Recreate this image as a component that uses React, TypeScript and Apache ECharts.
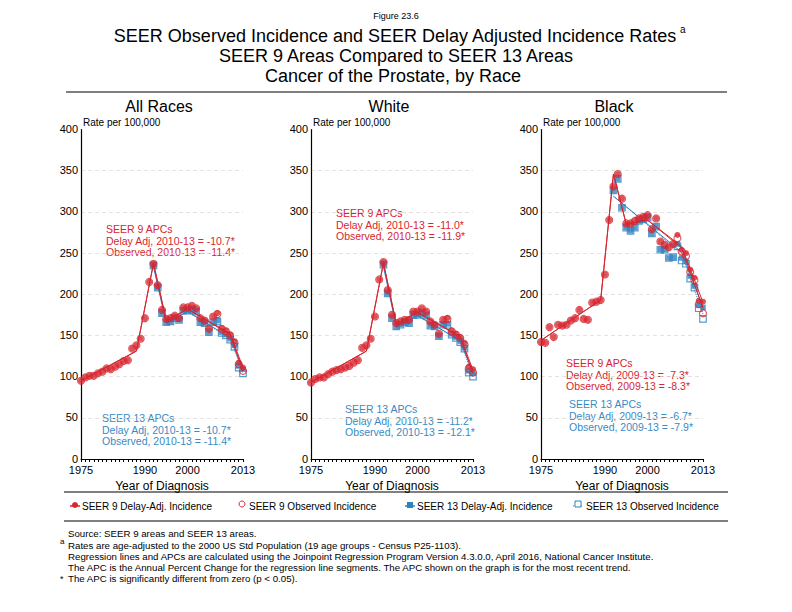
import React, { useEffect, useRef } from "react";
import * as echarts from "echarts";

const FONT = '"Liberation Sans", Arial, Helvetica, sans-serif';
const RED = "#d7262f";
const BLUE = "#2f82c0";
const BLUE_TEXT = "#3a8ac4";

const years9 = [1975, 1976, 1977, 1978, 1979, 1980, 1981, 1982, 1983, 1984, 1985, 1986, 1987, 1988, 1989, 1990, 1991, 1992, 1993, 1994, 1995, 1996, 1997, 1998, 1999, 2000, 2001, 2002, 2003, 2004, 2005, 2006, 2007, 2008, 2009, 2010, 2011, 2012, 2013];
const years13 = [1992, 1993, 1994, 1995, 1996, 1997, 1998, 1999, 2000, 2001, 2002, 2003, 2004, 2005, 2006, 2007, 2008, 2009, 2010, 2011, 2012, 2013];
const xLabelYears = [1975, 1990, 2000, 2013];
const panelTitles = ["All Races", "White", "Black"];

// All Races
const allS9Delay = [95, 99, 101, 101, 104, 106, 110, 109, 112, 115, 119, 120, 134, 138, 146, 171, 215, 237, 211, 181, 170, 171, 174, 171, 184, 184, 186, 183, 171, 168, 158, 173, 177, 159, 156, 151, 143, 117, 111];
const allS9Obs = [95, 99, 101, 101, 104, 106, 110, 109, 112, 115, 119, 120, 134, 138, 146, 171, 215, 237, 211, 181, 170, 171, 174, 171, 184, 184, 186, 183, 171, 168, 158, 173, 176, 158, 155, 150, 141, 115, 107];
const allS13Delay = [235, 208, 177, 166, 167, 171, 169, 180, 180, 181, 179, 166, 165, 154, 166, 168, 154, 151, 146, 138, 113, 109];
const allS13Obs = [235, 208, 177, 166, 167, 171, 169, 180, 180, 181, 179, 166, 165, 154, 166, 167, 153, 150, 145, 136, 111, 104];
const allRegS9Delay = [[1975, 95], [1988, 131], [1992, 238], [1995, 168], [2000, 182], [2010, 152], [2013, 111]];
const allRegS9Obs = [[1975, 95], [1988, 131], [1992, 237], [1995, 168], [2000, 182], [2010, 151], [2013, 107]];
const allRegS13Delay = [[1992, 234], [1995, 165], [2000, 179], [2010, 147], [2013, 108]];
const allRegS13Obs = [[1992, 234], [1995, 165], [2000, 179], [2010, 146], [2013, 104]];

// White
const whS9Delay = [93, 97, 99, 99, 103, 106, 108, 109, 111, 113, 117, 120, 135, 138, 146, 173, 218, 239, 205, 175, 165, 167, 169, 169, 179, 179, 183, 179, 167, 163, 152, 169, 171, 156, 152, 148, 141, 112, 109];
const whS9Obs = [93, 97, 99, 99, 103, 106, 108, 109, 111, 113, 117, 120, 135, 138, 146, 173, 218, 239, 205, 175, 165, 167, 169, 169, 179, 179, 183, 179, 167, 163, 152, 169, 170, 155, 151, 147, 139, 110, 105];
const whS13Delay = [236, 201, 171, 161, 163, 166, 165, 175, 175, 177, 174, 162, 161, 149, 163, 164, 152, 148, 143, 135, 107, 104];
const whS13Obs = [236, 201, 171, 161, 163, 166, 165, 175, 175, 177, 174, 162, 161, 149, 163, 163, 151, 147, 142, 134, 105, 100];
const whRegS9Delay = [[1975, 93], [1988, 131], [1992, 238], [1995, 164], [2000, 178], [2010, 149], [2013, 108]];
const whRegS9Obs = [[1975, 93], [1988, 131], [1992, 238], [1995, 164], [2000, 178], [2010, 148], [2013, 104]];
const whRegS13Delay = [[1992, 234], [1995, 161], [2000, 174], [2010, 144], [2013, 104]];
const whRegS13Obs = [[1992, 234], [1995, 161], [2000, 174], [2010, 143], [2013, 100]];

// Black
const blS9Delay = [142, 141, 160, 148, 163, 162, 163, 168, 171, 181, 170, 169, 190, 191, 193, 224, 290, 331, 346, 316, 286, 286, 289, 292, 294, 296, 279, 292, 264, 260, 257, 261, 272, 254, 250, 230, 220, 192, 191];
const blS9Obs = [142, 141, 160, 148, 163, 162, 163, 168, 171, 181, 170, 169, 190, 191, 193, 224, 290, 331, 346, 316, 286, 286, 289, 292, 294, 296, 279, 292, 264, 260, 257, 261, 268, 252, 246, 227, 217, 188, 177];
const blS13Delay = [326, 340, 305, 281, 277, 281, 289, 291, 293, 274, 282, 254, 254, 244, 245, 261, 244, 240, 222, 210, 187, 184];
const blS13Obs = [326, 340, 305, 281, 277, 281, 289, 291, 293, 274, 282, 254, 254, 244, 245, 258, 241, 237, 219, 208, 183, 170];
const blRegS9Delay = [[1975, 144], [1989, 193], [1992, 346], [1995, 285], [2000, 290], [2008, 258], [2013, 190]];
const blRegS9Obs = [[1975, 144], [1989, 193], [1992, 346], [1995, 285], [2000, 290], [2008, 256], [2013, 183]];
const blRegS13Delay = [[1992, 319], [2008, 251], [2013, 184]];
const blRegS13Obs = [[1992, 319], [2008, 249], [2013, 176]];

const apcS9 = [
  ["SEER 9 APCs", "Delay Adj, 2010-13 = -10.7*", "Observed, 2010-13 = -11.4*"],
  ["SEER 9 APCs", "Delay Adj, 2010-13 = -11.0*", "Observed, 2010-13 = -11.9*"],
  ["SEER 9 APCs", "Delay Adj, 2009-13 = -7.3*", "Observed, 2009-13 = -8.3*"],
];
const apcS13 = [
  ["SEER 13 APCs", "Delay Adj, 2010-13 = -10.7*", "Observed, 2010-13 = -11.4*"],
  ["SEER 13 APCs", "Delay Adj, 2010-13 = -11.2*", "Observed, 2010-13 = -12.1*"],
  ["SEER 13 APCs", "Delay Adj, 2009-13 = -6.7*", "Observed, 2009-13 = -7.9*"],
];

const panels = [
  { s9d: allS9Delay, s9o: allS9Obs, s13d: allS13Delay, s13o: allS13Obs, r9d: allRegS9Delay, r9o: allRegS9Obs, r13d: allRegS13Delay, r13o: allRegS13Obs },
  { s9d: whS9Delay, s9o: whS9Obs, s13d: whS13Delay, s13o: whS13Obs, r9d: whRegS9Delay, r9o: whRegS9Obs, r13d: whRegS13Delay, r13o: whRegS13Obs },
  { s9d: blS9Delay, s9o: blS9Obs, s13d: blS13Delay, s13o: blS13Obs, r9d: blRegS9Delay, r9o: blRegS9Obs, r13d: blRegS13Delay, r13o: blRegS13Obs },
];

const legendNames = ["SEER 9 Delay-Adj. Incidence", "SEER 9 Observed Incidence", "SEER 13 Delay-Adj. Incidence", "SEER 13 Observed Incidence"];
const footnotes = [
  "Source: SEER 9 areas and SEER 13 areas.",
  "Rates are age-adjusted to the 2000 US Std Population (19 age groups - Census P25-1103).",
  "Regression lines and APCs are calculated using the Joinpoint Regression Program Version 4.3.0.0, April 2016, National Cancer Institute.",
  "The APC is the Annual Percent Change for the regression line segments. The APC shown on the graph is for the most recent trend.",
  "The APC is significantly different from zero (p < 0.05).",
];

const GRID_LEFT = [81, 311, 541];
const GRID_TOP = 129.5;
const GRID_W = 162;
const GRID_H = 329.5;

function zip(xs: number[], ys: number[]) {
  return xs.map((x, i) => [x, ys[i]]);
}

function txt(text: string, x: number, y: number, size: number, fill = "#000", align = "left", extra: any = {}) {
  return {
    type: "text",
    x,
    y,
    silent: true,
    style: { text, fill, fontSize: size, fontFamily: FONT, align, verticalAlign: "middle", ...extra },
  };
}

function hline(x1: number, x2: number, y: number, w = 1) {
  return { type: "line", silent: true, shape: { x1, y1: y, x2, y2: y }, style: { stroke: "#000", lineWidth: w } };
}

export default function App() {
  const ref = useRef<HTMLDivElement>(null);
  useEffect(() => {
    document.body.style.margin = "0";
    const chart = echarts.init(ref.current!, null, { renderer: "svg" });

    const grids = GRID_LEFT.map((l) => ({ left: l, top: GRID_TOP, width: GRID_W, height: GRID_H, containLabel: false }));
    const splitColors = ["rgba(0,0,0,0)", "#dcdcdc", "#dcdcdc", "#dcdcdc", "#dcdcdc", "#dcdcdc", "#dcdcdc", "#dcdcdc", "rgba(0,0,0,0)"];
    const xAxes = GRID_LEFT.map((_, i) => ({
      type: "value",
      gridIndex: i,
      min: 1975,
      max: 2013,
      interval: 1,
      axisLine: { show: true, lineStyle: { color: "#000", width: 1 } },
      axisTick: { show: true, length: 3, lineStyle: { color: "#000", width: 1 } },
      axisLabel: {
        show: true,
        color: "#000",
        fontSize: 11,
        fontFamily: FONT,
        margin: 5.5,
        hideOverlap: false,
        showMinLabel: true,
        showMaxLabel: true,
        formatter: (v: number) => (xLabelYears.includes(v) ? String(v) : ""),
      },
      splitLine: { show: false },
      name: "Year of Diagnosis",
      nameLocation: "middle",
      nameGap: 15,
      nameTextStyle: { color: "#000", fontSize: 12, fontFamily: FONT },
    }));
    const yAxes = GRID_LEFT.map((_, i) => ({
      type: "value",
      gridIndex: i,
      min: 0,
      max: 400,
      interval: 50,
      axisLine: { show: true, lineStyle: { color: "#000", width: 1.2 } },
      axisTick: { show: false },
      axisLabel: { color: "#000", fontSize: 11, fontFamily: FONT, margin: 3, verticalAlign: "bottom", lineHeight: 11, padding: [0, 0, -5, 0] },
      splitLine: { show: true, lineStyle: { color: splitColors, type: [4, 3], width: 0.8 } },
    }));

    const series: any[] = [];
    panels.forEach((p, i) => {
      const base = { xAxisIndex: i, yAxisIndex: i, silent: true };
      series.push({
        ...base, type: "scatter", name: legendNames[3], data: zip(years13, p.s13o), symbol: "rect", symbolSize: 6.5,
        itemStyle: { color: "rgba(0,0,0,0)", borderColor: BLUE, borderWidth: 1.2 }, z: 2,
      });
      series.push({
        ...base, type: "scatter", name: legendNames[2], data: zip(years13, p.s13d), symbol: "rect", symbolSize: 5.5,
        itemStyle: { color: BLUE }, z: 2,
      });
      [
        { d: p.r13o, c: BLUE, t: "dotted" },
        { d: p.r13d, c: BLUE, t: "solid" },
        { d: p.r9o, c: RED, t: "solid" },
        { d: p.r9d, c: RED, t: "solid" },
      ].forEach((r) => {
        series.push({
          ...base, type: "line", data: r.d, showSymbol: false, symbol: "none",
          lineStyle: { color: r.c, width: 1, type: r.t }, z: 3,
        });
      });
      series.push({
        ...base, type: "scatter", name: legendNames[0], data: zip(years9, p.s9d), symbol: "circle", symbolSize: 6,
        itemStyle: { color: RED }, z: 4,
      });
      series.push({
        ...base, type: "scatter", name: legendNames[1], data: zip(years9, p.s9o), symbol: "circle", symbolSize: 7,
        itemStyle: { color: "rgba(0,0,0,0)", borderColor: RED, borderWidth: 1.1 }, z: 5,
      });
    });

    const graphics: any[] = [];
    graphics.push(txt("Figure 23.6", 396, 16, 9, "#000", "center"));
    graphics.push(txt("SEER Observed Incidence and SEER Delay Adjusted Incidence Rates", 395, 36, 18, "#000", "center"));
    graphics.push(txt("a", 680, 29, 10, "#000", "left"));
    graphics.push(txt("SEER 9 Areas Compared to SEER 13 Areas", 396, 56, 18, "#000", "center"));
    graphics.push(txt("Cancer of the Prostate, by Race", 393, 76, 18, "#000", "center"));
    graphics.push(hline(66, 727, 92, 1));

    const titleX = [159, 389, 614];
    panelTitles.forEach((t, i) => {
      graphics.push(txt(t, titleX[i], 106, 16, "#000", "center"));
      graphics.push(txt("Rate per 100,000", GRID_LEFT[i] + 2, 122, 10, "#000", "left"));
    });

    const s9Pos = [[106, 229], [336, 213], [566, 363]];
    const s13Pos = [[102, 418], [345, 409], [569, 404]];
    apcS9.forEach((lines, i) => {
      lines.forEach((l, j) => graphics.push(txt(l, s9Pos[i][0], s9Pos[i][1] + j * 11.7, 10.5, RED, "left")));
    });
    apcS13.forEach((lines, i) => {
      lines.forEach((l, j) => graphics.push(txt(l, s13Pos[i][0], s13Pos[i][1] + j * 11.7, 10.5, BLUE_TEXT, "left")));
    });

    // Legend box
    graphics.push(hline(64, 728, 492, 1.2));
    graphics.push(hline(64, 728, 521, 1.2));
    const ly = 506;
    const lm = [75, 242, 410, 578];
    // 1: SEER 9 delay
    graphics.push({ type: "line", silent: true, shape: { x1: lm[0] - 5, y1: ly, x2: lm[0] + 5, y2: ly }, style: { stroke: RED, lineWidth: 1.5 } });
    graphics.push({ type: "circle", silent: true, shape: { cx: lm[0], cy: ly - 1, r: 3 }, style: { fill: RED } });
    // 2: SEER 9 observed
    graphics.push({ type: "circle", silent: true, shape: { cx: lm[1], cy: ly - 2, r: 3 }, style: { fill: "#fff", stroke: RED, lineWidth: 1 } });
    // 3: SEER 13 delay
    graphics.push({ type: "line", silent: true, shape: { x1: lm[2] - 5, y1: ly, x2: lm[2] + 5, y2: ly }, style: { stroke: BLUE, lineWidth: 1.5 } });
    graphics.push({ type: "rect", silent: true, shape: { x: lm[2] - 3, y: ly - 4, width: 6, height: 6 }, style: { fill: BLUE } });
    // 4: SEER 13 observed
    graphics.push({ type: "line", silent: true, shape: { x1: lm[3] - 5, y1: ly, x2: lm[3] + 5, y2: ly }, style: { stroke: BLUE, lineWidth: 1, lineDash: [1, 1] } });
    graphics.push({ type: "rect", silent: true, shape: { x: lm[3] - 3, y: ly - 5, width: 6, height: 6 }, style: { fill: "#fff", stroke: BLUE, lineWidth: 1 } });
    const lt = [82, 249, 417, 586];
    legendNames.forEach((n, i) => graphics.push(txt(n, lt[i], ly, 10, "#000", "left")));

    // Footnotes
    const fy = [533, 545, 556, 567, 578];
    footnotes.forEach((f, i) => graphics.push(txt(f, 68, fy[i], 9.7, "#000", "left")));
    graphics.push(txt("a", 60, 541, 8, "#000", "left"));
    graphics.push(txt("*", 60, 579, 9, "#000", "left"));

    chart.setOption({
      animation: false,
      backgroundColor: "#fff",
      textStyle: { fontFamily: FONT },
      grid: grids,
      xAxis: xAxes,
      yAxis: yAxes,
      series,
      graphic: { elements: graphics },
    });
    return () => chart.dispose();
  }, []);
  return <div ref={ref} style={{ width: 792, height: 612 }} />;
}
